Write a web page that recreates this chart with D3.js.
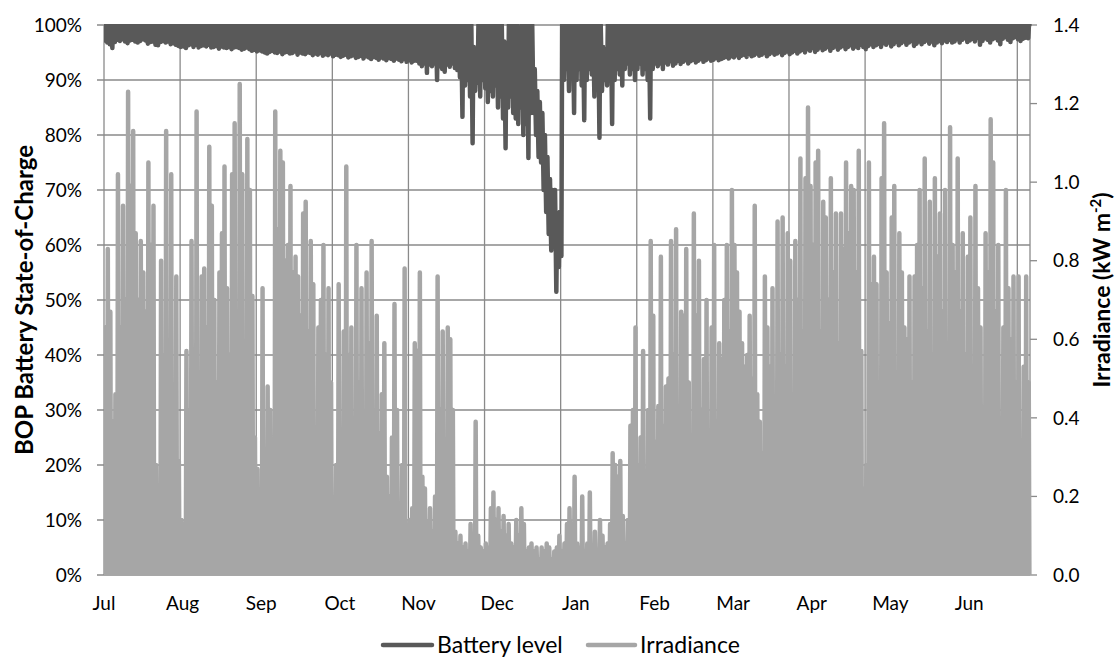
<!DOCTYPE html>
<html><head><meta charset="utf-8">
<script src="https://cdn.jsdelivr.net/npm/d3@7"></script>
<style>
body{margin:0;background:#fff}
svg{display:block}
text{font-family:Lato,"Open Sans","Liberation Sans",sans-serif;fill:#000}
</style></head>
<body>
<svg id="chart" width="1115" height="657"></svg>
<script>
// ---- axis labels ----
const monthLabels = ["Jul","Aug","Sep","Oct","Nov","Dec","Jan","Feb","Mar","Apr","May","Jun"];
const socTicks = [0,10,20,30,40,50,60,70,80,90,100];
const irrTicks = [0,0.2,0.4,0.6,0.8,1.0,1.2,1.4];

// ---- daily peak irradiance (kW m-2), one value per day ----
const irrJul = [0.63,0.83,0.67,0.39,0.46,1.02,0.63,0.94,0.70,1.23,0.99,1.13,0.87,0.70,0.85,0.77,0.67,1.05,0.84,0.94,0.28,0.22,0.80,0.56,1.13,0.42,1.02,0.39,0.76,0.29,0.14];
const irrAug = [0.13,0.57,0.42,0.85,0.39,1.18,0.39,0.76,0.78,0.63,1.09,0.94,0.70,0.49,0.77,0.87,1.04,0.73,0.56,1.02,1.15,0.63,1.25,1.02,0.50,1.11,0.98,0.71,0.35,0.27,0.17];
const irrSep = [0.73,0.28,0.48,0.42,0.17,1.18,0.88,1.08,1.05,0.80,0.84,0.99,0.77,0.81,0.76,0.66,0.92,0.95,0.62,0.85,0.74,0.18,0.63,0.70,0.84,0.56,0.73,0.49,0.18,0.28];
const irrOct = [0.74,0.28,0.62,1.04,0.56,0.63,0.31,0.84,0.49,0.73,0.39,0.77,0.59,0.85,0.42,0.66,0.36,0.46,0.59,0.25,0.20,0.35,0.69,0.42,0.17,0.28,0.78,0.11,0.14,0.17,0.59];
const irrNov = [0.57,0.77,0.25,0.22,0.13,0.17,0.11,0.20,0.76,0.42,0.62,0.17,0.63,0.60,0.42,0.11,0.08,0.10,0.07,0.08,0.06,0.13,0.07,0.39,0.10,0.07,0.06,0.08,0.07,0.17];
const irrDec = [0.21,0.14,0.17,0.11,0.15,0.10,0.13,0.08,0.07,0.14,0.10,0.17,0.13,0.06,0.07,0.08,0.06,0.07,0.04,0.07,0.06,0.08,0.07,0.04,0.06,0.07,0.10,0.06,0.08,0.13,0.17];
const irrJan = [0.13,0.25,0.08,0.07,0.20,0.06,0.08,0.21,0.07,0.11,0.06,0.14,0.10,0.07,0.08,0.13,0.31,0.28,0.25,0.29,0.15,0.08,0.14,0.38,0.42,0.63,0.28,0.35,0.57,0.22,0.42];
const irrFeb = [0.85,0.66,0.34,0.43,0.81,0.38,0.48,0.50,0.85,0.56,0.88,0.41,0.67,0.66,0.83,0.49,0.35,0.92,0.66,0.80,0.42,0.55,0.70,0.28,0.63,0.84,0.39,0.59];
const irrMar = [0.55,0.70,0.84,0.62,0.98,0.84,0.77,0.67,0.59,0.53,0.56,0.66,0.50,0.94,0.46,0.39,0.31,0.76,0.63,0.53,0.73,0.42,0.90,0.56,0.91,0.53,0.87,0.80,0.36,0.85,0.70];
const irrApr = [1.06,0.62,1.01,1.19,0.99,0.84,1.05,1.08,0.62,0.95,0.91,0.70,1.01,0.77,0.92,0.59,0.92,0.83,1.05,0.87,0.99,0.98,0.77,1.08,0.57,0.22,0.28,1.05,0.74,0.81];
const irrMay = [0.74,0.49,1.01,1.15,0.77,0.64,0.91,0.99,0.21,0.87,0.77,0.63,0.60,0.76,0.49,0.76,0.84,0.98,0.73,1.06,0.62,0.95,0.56,1.01,0.81,0.92,0.67,0.98,0.42,1.14,0.84];
const irrJun = [0.77,1.06,0.67,0.87,0.56,0.81,0.91,0.49,0.99,0.73,0.63,0.28,0.87,0.77,1.16,1.05,0.67,0.84,0.21,0.63,0.98,0.73,0.60,0.76,0.49,0.76,0.31,0.53,0.76,0.49];

// ---- daily minimum (night) battery state-of-charge, % ----
const socMinJul = [97.2,96.8,96.5,95.8,96.9,97.3,97.1,97.4,97.0,96.7,97.2,97.3,97.0,96.8,97.1,97.4,97.2,96.6,96.9,97.0,96.4,96.3,96.9,97.1,96.8,97.0,96.5,96.7,96.4,96.2,96.0];
const socMinAug = [96.1,95.8,96.3,96.5,96.0,96.4,95.9,96.2,96.3,96.1,96.4,95.9,96.0,96.2,95.7,96.1,95.9,95.8,96.0,95.6,95.9,96.0,95.8,95.5,95.7,95.9,95.6,95.3,95.5,95.2,95.4];
const socMinSep = [95.2,95.0,94.8,95.1,95.3,95.0,94.9,95.2,94.7,95.0,95.1,94.8,94.9,95.2,94.6,95.0,94.8,94.7,95.0,94.9,94.5,94.8,94.6,94.9,94.4,94.7,94.5,94.8,94.3,94.6];
const socMinOct = [94.5,94.2,94.4,94.6,94.1,94.3,94.5,94.0,94.2,94.4,93.9,94.3,94.1,93.8,94.2,94.0,93.7,94.1,93.9,93.6,94.0,93.8,93.5,93.9,93.7,93.4,93.8,93.3,93.6,93.2,93.5];
const socMinNov = [93.5,93.0,92.5,93.0,91.3,92.8,92.5,93.0,90.0,92.5,92.0,91.5,92.8,92.4,93.0,92.2,91.8,90.5,83.3,89.0,90.0,87.0,78.5,88.0,89.5,87.0,90.0,88.5,86.0,88.0];
const socMinDec = [87.0,89.0,85.0,87.0,83.0,77.6,85.0,87.0,84.0,83.0,82.0,85.0,80.0,82.0,75.8,84.0,84.0,80.0,76.0,75.0,70.0,66.0,62.0,59.0,60.0,51.5,56.0,58.0,90.0,92.0,88.0];
const socMinJan = [91.0,84.0,90.0,92.0,89.0,82.7,90.0,92.0,91.0,87.0,90.0,79.5,88.0,90.0,89.0,91.0,82.0,90.0,92.0,91.0,89.0,92.0,93.0,91.0,92.0,90.0,92.0,93.0,91.0,92.0,90.0];
const socMinFeb = [83.0,92.0,93.0,92.5,93.0,92.0,93.2,92.8,93.4,92.6,93.0,93.5,92.9,93.3,93.6,93.0,93.4,93.7,93.2,93.5,93.8,93.3,93.6,93.9,93.5,93.7,94.0,93.6];
const socMinMar = [93.8,94.0,94.2,93.9,94.3,94.1,94.5,94.0,94.4,94.6,94.2,94.7,94.3,94.5,94.8,94.4,94.6,94.9,94.3,94.7,95.0,94.6,94.8,95.1,94.5,94.9,95.2,94.7,95.0,95.3,94.8];
const socMinApr = [95.2,95.5,95.0,95.6,95.3,95.8,95.1,95.5,95.9,95.4,95.7,96.0,95.3,95.8,96.1,95.5,95.9,96.2,95.6,96.0,96.3,95.7,96.1,95.8,96.4,96.0,95.6,96.2,96.5,96.0];
const socMinMay = [96.3,96.6,96.0,96.7,96.4,96.8,96.1,96.5,96.9,96.3,96.7,97.0,96.4,96.8,97.1,96.2,96.6,97.0,96.5,96.9,97.2,96.6,97.0,96.3,96.8,97.1,96.7,97.2,96.9,97.3,96.8];
const socMinJun = [97.0,97.4,96.8,97.3,97.6,96.9,97.2,97.5,97.0,97.7,96.4,97.1,97.6,97.3,96.8,97.4,97.7,97.2,96.5,97.5,97.8,97.3,96.9,97.6,97.8,97.4,97.1,97.5,97.7,97.6];

// ---- days (index from 1 July) on which the battery did not recharge to 100% ----
const socMaxDays = [145,146,157,158,163,169,170,171,172,173,174,175,176,177,178,179,196,197];
const socMaxVals = [96,93,97,95,97,92,88,86,84,80,76,72,70,70,64,66,96,95];

// ---- assemble ----
const irrDaily = [].concat(irrJul,irrAug,irrSep,irrOct,irrNov,irrDec,irrJan,irrFeb,irrMar,irrApr,irrMay,irrJun);
const socMin = [].concat(socMinJul,socMinAug,socMinSep,socMinOct,socMinNov,socMinDec,socMinJan,socMinFeb,socMinMar,socMinApr,socMinMay,socMinJun);
const socMax = socMin.map(() => 100);
socMaxDays.forEach((d,i) => { socMax[d] = socMaxVals[i]; });

const nDays = irrDaily.length;         // 365
const HOURS = nDays * 24;

const irrPts = [];
irrDaily.forEach((v,d) => {
  irrPts.push([d*24+6, 0]);
  irrPts.push([d*24+12, v]);
  irrPts.push([d*24+18, 0]);
});
const socPts = [];
socMin.forEach((v,d) => {
  socPts.push([d*24+7, v]);
  socPts.push([d*24+14, socMax[d]]);
  socPts.push([d*24+19, socMax[d]]);
});

// ---- drawing ----
const svg = d3.select("#chart");
const L = 104, R = 1030, T = 25, B = 575;
const x = d3.scaleLinear().domain([0, HOURS]).range([L, R]);
const yL = d3.scaleLinear().domain([0, 100]).range([B, T]);
const yR = d3.scaleLinear().domain([0, 1.4]).range([B, T]);
const gridCol = "#8a8a8a";

svg.append("g").selectAll("line").data(socTicks).join("line")
  .attr("x1", L-7).attr("x2", R).attr("y1", d=>yL(d)).attr("y2", d=>yL(d))
  .attr("stroke", gridCol).attr("stroke-width", 1.3);
const vGrid = d3.range(0, HOURS, 720);
svg.append("g").selectAll("line").data(vGrid).join("line")
  .attr("x1", d=>x(d)).attr("x2", d=>x(d)).attr("y1", T).attr("y2", B)
  .attr("stroke", gridCol).attr("stroke-width", 1.3);
svg.append("line").attr("x1", R).attr("x2", R).attr("y1", T).attr("y2", B)
  .attr("stroke", gridCol).attr("stroke-width", 1.3);
svg.append("g").selectAll("line").data(irrTicks).join("line")
  .attr("x1", R).attr("x2", R+7).attr("y1", d=>yR(d)).attr("y2", d=>yR(d))
  .attr("stroke", gridCol).attr("stroke-width", 1.3);

svg.append("clipPath").attr("id","clip").append("rect")
  .attr("x", L).attr("y", T-1).attr("width", R-L+3).attr("height", B-T+1);

svg.append("path").datum(irrPts)
  .attr("clip-path","url(#clip)")
  .attr("fill","none").attr("stroke","#a6a6a6").attr("stroke-width",4.5)
  .attr("stroke-linejoin","round").attr("stroke-linecap","round")
  .attr("d", d3.line().x(d=>x(d[0])).y(d=>yR(d[1])));
svg.append("path").datum(socPts)
  .attr("clip-path","url(#clip)")
  .attr("fill","none").attr("stroke","#595959").attr("stroke-width",4.5)
  .attr("stroke-linejoin","round").attr("stroke-linecap","round")
  .attr("d", d3.line().x(d=>x(d[0])).y(d=>yL(d[1])));

svg.append("g").selectAll("text").data(socTicks).join("text")
  .attr("x", 82).attr("y", d=>yL(d)).attr("dy","0.35em").attr("text-anchor","end")
  .attr("font-size", 19).text(d=>d+"%");
svg.append("g").selectAll("text").data(irrTicks).join("text")
  .attr("x", 1053).attr("y", d=>yR(d)).attr("dy","0.35em").attr("text-anchor","start")
  .attr("font-size", 19).text(d=>d3.format(".1f")(d));
svg.append("g").selectAll("text").data(monthLabels).join("text")
  .attr("x", (d,i)=>x(i*744)).attr("y", 610).attr("text-anchor","middle")
  .attr("font-size", 19).text(d=>d);

svg.append("text").attr("transform","translate(33,300) rotate(-90)")
  .attr("text-anchor","middle").attr("font-size",24).attr("font-weight","bold")
  .text("BOP Battery State-of-Charge");
const rt = svg.append("text").attr("transform","translate(1110,290) rotate(-90)")
  .attr("text-anchor","middle").attr("font-size",23).attr("font-weight","bold");
rt.append("tspan").text("Irradiance (kW m");
rt.append("tspan").attr("font-size",15).attr("dy",-9).text("-2");
rt.append("tspan").attr("dy",9).text(")");

const lg = svg.append("g");
lg.append("line").attr("x1",383).attr("x2",432).attr("y1",645).attr("y2",645)
  .attr("stroke","#595959").attr("stroke-width",4.5).attr("stroke-linecap","round");
lg.append("text").attr("x",437).attr("y",645).attr("dy","0.35em").attr("font-size",23).text("Battery level");
lg.append("line").attr("x1",588).attr("x2",635).attr("y1",645).attr("y2",645)
  .attr("stroke","#a6a6a6").attr("stroke-width",4.5).attr("stroke-linecap","round");
lg.append("text").attr("x",640).attr("y",645).attr("dy","0.35em").attr("font-size",23).text("Irradiance");
</script>
</body></html>
